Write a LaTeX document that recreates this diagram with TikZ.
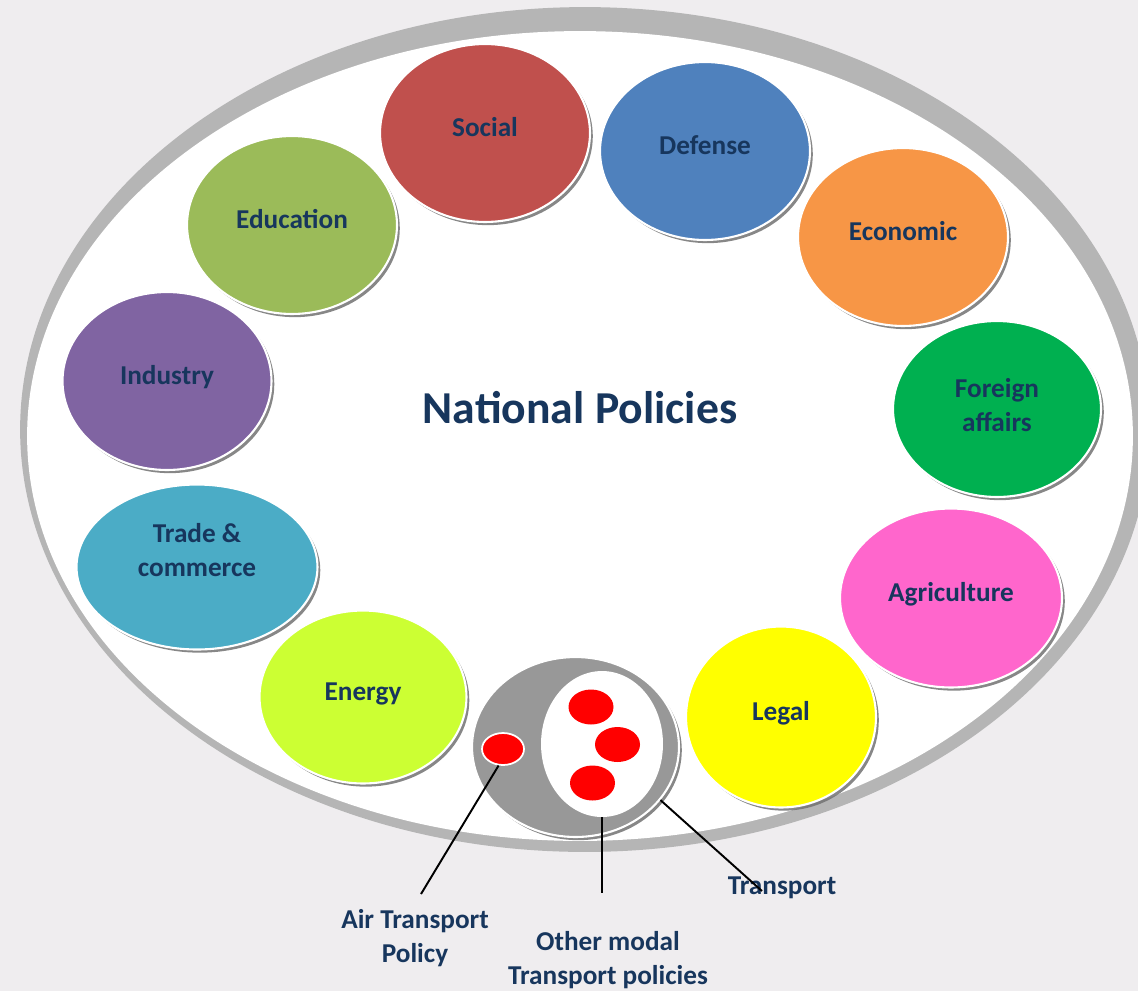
\documentclass[tikz,border=0pt]{standalone}
\usepackage{fontspec}
\setmainfont{Carlito}
\usetikzlibrary{shapes,positioning,shadows}
\definecolor{pagegray}{RGB}{239,237,239}
\definecolor{ringgray}{RGB}{181,181,181}
\definecolor{policynavy}{RGB}{23,54,93}
\definecolor{socialred}{RGB}{192,80,77}
\definecolor{defenseblue}{RGB}{79,129,189}
\definecolor{economicorange}{RGB}{247,150,70}
\definecolor{foreigngreen}{RGB}{0,176,80}
\definecolor{agripink}{RGB}{255,102,204}
\definecolor{legalyellow}{RGB}{255,255,0}
\definecolor{energylime}{RGB}{204,255,51}
\definecolor{tradeblue}{RGB}{75,172,198}
\definecolor{industrypurple}{RGB}{128,100,162}
\definecolor{educationgreen}{RGB}{155,187,89}
\definecolor{transportgray}{RGB}{152,152,152}
\definecolor{modered}{RGB}{255,0,0}

\tikzset{
  policy/.style={ellipse, draw=white, line width=1.2pt, inner sep=0pt, align=center,
    text=policynavy, font=\fontsize{15.5}{19.5}\selectfont\bfseries,
    drop shadow={shadow xshift=1.6pt, shadow yshift=-1.8pt, fill=black!55, opacity=0.85}},
  raised/.style={text height=11pt, text depth=7pt},
  mode/.style={ellipse, fill=modered, inner sep=0pt, minimum width=0.9cm, minimum height=0.7cm},
  caption/.style={align=center, text=policynavy, font=\fontsize{15.5}{19.5}\selectfont\bfseries},
  leader/.style={line width=1.1pt, black}
}

\begin{document}
\begin{tikzpicture}[x=0.02cm, y=-0.02cm]
				\fill[pagegray] (0,0) rectangle (1138,991);
				\useasboundingbox (0,0) rectangle (1138,991);
				
				% Outer ring
				\fill[ringgray] (585,429.5) ellipse [x radius=11.3cm, y radius=8.45cm];
				\fill[white] (580,436) ellipse [x radius=11.06cm, y radius=8.1cm];
				
				% Policy areas
				\node[policy, raised, fill=socialred, minimum width=4.2cm, minimum height=3.56cm] (social) at (485,133) {Social};
				\node[policy, raised, fill=defenseblue, minimum width=4.2cm, minimum height=3.56cm] (defense) at (705,151) {Defense};
				\node[policy, raised, fill=economicorange, minimum width=4.2cm, minimum height=3.56cm] (economic) at (903,237) {Economic};
				\node[policy, fill=foreigngreen, minimum width=4.16cm, minimum height=3.52cm] (foreign) at (997,409) {};
				\node[caption] (foreigntext) at (997,405) {Foreign\\affairs};
				\node[policy, raised, fill=legalyellow, minimum width=3.8cm, minimum height=3.62cm] (legal) at (781,717) {Legal};
				\node[policy, raised, fill=agripink, minimum width=4.44cm, minimum height=3.58cm] (agriculture) at (951,598) {Agriculture};
				\node[policy, raised, fill=energylime, minimum width=4.14cm, minimum height=3.46cm] (energy) at (363,697) {Energy};
				\node[policy, fill=tradeblue, minimum width=4.82cm, minimum height=3.3cm] (trade) at (197,567) {};
				\node[caption] (tradetext) at (197,550) {Trade \&\\commerce};
				\node[policy, raised, fill=industrypurple, minimum width=4.18cm, minimum height=3.56cm] (industry) at (167,381) {Industry};
				\node[policy, raised, fill=educationgreen, minimum width=4.2cm, minimum height=3.56cm] (education) at (292,225) {Education};
				
				\node[text=policynavy, font=\fontsize{26}{30}\selectfont\bfseries] (national) at (580,408) {National Policies};
				
				% Transport and its modes
				\node[policy, fill=transportgray, minimum width=4.14cm, minimum height=3.6cm] (transport) at (575.5,747) {};
				\node[ellipse, fill=white, inner sep=0pt, minimum width=2.44cm, minimum height=2.92cm] (modal) at (602,744) {};
				\node[mode] (modeA) at (591,707) {};
				\node[mode] (modeB) at (617.5,744.5) {};
				\node[mode] (modeC) at (592.5,783) {};
				\node[mode, draw=white, line width=1pt, minimum width=0.84cm, minimum height=0.64cm] (airdot) at (503,749) {};
				
				% Captions
				\node[caption] (airlabel) at (415,938) {Air Transport\\Policy};
				\node[caption] (modallabel) at (608,960) {Other modal\\Transport policies};
				\node[caption] (transportlabel) at (782,888) {Transport};
				
				% Leaders
				\coordinate (airend) at (421,894);
				\coordinate (modalend) at (602,893);
				\coordinate (transportend) at (762,891);
				\draw[leader] (airdot.255) -- (airend);
				\draw[leader] (modal.south) -- (modalend);
				\draw[leader] (transport.-32) -- (transportend);
			\end{tikzpicture}
\end{document}
